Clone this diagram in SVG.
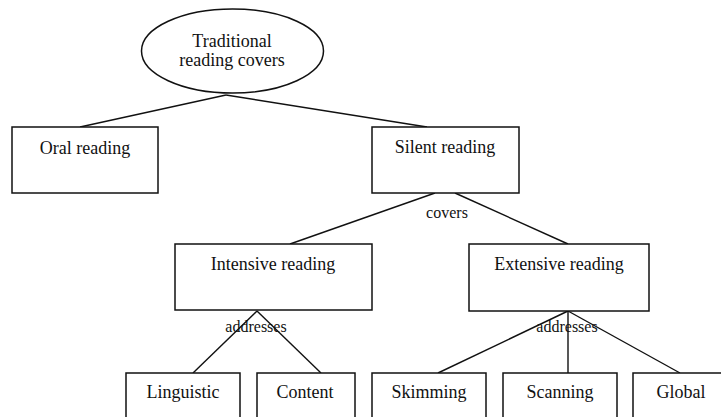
<svg xmlns="http://www.w3.org/2000/svg" width="721" height="417" viewBox="0 0 721 417">
<style>
.n{fill:#fff;stroke:#111;stroke-width:1.5}
.t{font-family:"Liberation Serif","Times New Roman",serif;font-size:18px;fill:#111;text-anchor:middle}
.l{font-family:"Liberation Serif","Times New Roman",serif;font-size:16px;fill:#111;text-anchor:middle}
.c{stroke:#111;stroke-width:1.4;fill:none}
</style>
<rect width="721" height="417" fill="#fff"/>
<g id="connectors">
<line class="c" x1="226" y1="95" x2="80" y2="127"/>
<line class="c" x1="226" y1="95" x2="427" y2="127"/>
<line class="c" x1="435" y1="193" x2="290" y2="244"/>
<line class="c" x1="455" y1="193" x2="568" y2="244"/>
<line class="c" x1="257" y1="311" x2="193" y2="373"/>
<line class="c" x1="257" y1="311" x2="321" y2="373"/>
<line class="c" x1="568" y1="311" x2="438" y2="373"/>
<line class="c" x1="568" y1="311" x2="568" y2="373"/>
<line class="c" x1="568" y1="311" x2="680" y2="373"/>
<text class="l" x="447" y="218">covers</text>
<text class="l" x="256" y="332">addresses</text>
<text class="l" x="567" y="332">addresses</text>
</g>
<g id="traditional">
<ellipse class="n" cx="232.5" cy="51" rx="91" ry="42"/>
<text class="t" x="232" y="47">Traditional</text>
<text class="t" x="232" y="66">reading covers</text>
</g>
<g id="oral">
<rect class="n" x="12" y="127" width="146" height="66"/>
<text class="t" x="85" y="154">Oral reading</text>
</g>
<g id="silent">
<rect class="n" x="372" y="127" width="147" height="66"/>
<text class="t" x="445" y="153">Silent reading</text>
</g>
<g id="intensive">
<rect class="n" x="175" y="244" width="197" height="66"/>
<text class="t" x="273" y="270">Intensive reading</text>
</g>
<g id="extensive">
<rect class="n" x="469" y="244" width="180" height="67"/>
<text class="t" x="559" y="270">Extensive reading</text>
</g>
<g id="linguistic">
<rect class="n" x="126" y="373" width="114" height="70"/>
<text class="t" x="183" y="398">Linguistic</text>
</g>
<g id="content">
<rect class="n" x="257" y="373" width="98" height="70"/>
<text class="t" x="305" y="398">Content</text>
</g>
<g id="skimming">
<rect class="n" x="372" y="373" width="114" height="70"/>
<text class="t" x="429" y="398">Skimming</text>
</g>
<g id="scanning">
<rect class="n" x="503" y="373" width="114" height="70"/>
<text class="t" x="560" y="398">Scanning</text>
</g>
<g id="global">
<rect class="n" x="633" y="373" width="114" height="70"/>
<text class="t" x="681" y="398">Global</text>
</g>
</svg>
